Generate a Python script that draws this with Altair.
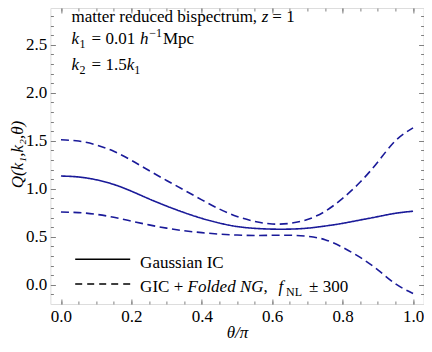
import altair as alt
import pandas as pd

# ---------------- data ----------------
theta = [0.00, 0.05, 0.10, 0.15, 0.20, 0.25, 0.30, 0.35, 0.40, 0.45, 0.50,
         0.55, 0.60, 0.65, 0.70, 0.75, 0.80, 0.85, 0.90, 0.95, 1.00]
q_gaussian = [1.133, 1.123, 1.094, 1.045, 0.975, 0.895, 0.820, 0.752, 0.692, 0.643, 0.607,
              0.588, 0.580, 0.580, 0.590, 0.612, 0.640, 0.675, 0.710, 0.745, 0.766]
q_folded_plus = [1.510, 1.497, 1.457, 1.390, 1.297, 1.190, 1.087, 0.986, 0.885, 0.789, 0.712,
                 0.661, 0.633, 0.640, 0.680, 0.765, 0.900, 1.070, 1.280, 1.500, 1.635]
q_folded_minus = [0.758, 0.752, 0.734, 0.703, 0.663, 0.624, 0.590, 0.563, 0.543, 0.528, 0.518,
                  0.514, 0.516, 0.516, 0.505, 0.470, 0.390, 0.285, 0.155, 0.010, -0.090]

series_names = ["Gaussian IC", "GIC + Folded NG, fNL +300", "GIC + Folded NG, fNL -300"]

x_major = [0.0, 0.2, 0.4, 0.6, 0.8, 1.0]
x_minor = [round(i * 0.05, 2) for i in range(21)]
y_major = [0.0, 0.5, 1.0, 1.5, 2.0, 2.5]
y_minor = [round(-0.1 + i * 0.1, 1) for i in range(30)]

x_domain = [-0.03, 1.03]
y_domain = [-0.2, 2.883]

rows = []
for name, vals in zip(series_names, [q_gaussian, q_folded_plus, q_folded_minus]):
    for t, v in zip(theta, vals):
        rows.append({"theta": t, "Q": v, "series": name})
df = pd.DataFrame(rows)

# ---------------- style ----------------
FONT = "'Liberation Serif', 'Times New Roman', serif"
BLUE = "#1a1a99"
FRAME = "#808080"
W, H = 373.2, 296
PAD_L = 42.4

xs = alt.Scale(domain=x_domain, nice=False, zero=False)
ys = alt.Scale(domain=y_domain, nice=False, zero=False)


def axis(orient, values, size, labels=False, **kw):
    return alt.Axis(orient=orient, values=values, tickSize=size, offset=-size,
                    labels=labels, grid=False, domain=False, tickColor=FRAME,
                    tickWidth=1, **kw)


x_main_axis = axis("bottom", x_major, 5, labels=True, format=".1f",
                   labelFont=FONT, labelFontSize=17, labelColor="black",
                   labelBaseline="alphabetic", labelPadding=17.5, labelFlush=False,
                   title="θ/π", titleFont=FONT, titleFontSize=17, titleFontStyle="italic",
                   titleFontWeight="normal", titleColor="black",
                   titleBaseline="alphabetic", titleY=38, titleX=W / 2)
y_main_axis = axis("left", y_major, 5, labels=True, format=".1f",
                   labelFont=FONT, labelFontSize=17, labelColor="black",
                   labelPadding=3.7, labelFlush=False,
                   title="Q(k₁,k₂,θ)", titleFont=FONT, titleFontSize=17,
                   titleFontStyle="italic", titleFontWeight="normal", titleColor="black",
                   titleAngle=270, titleAlign="center", titleBaseline="alphabetic",
                   titleX=-33.4, titleY=146)

lines = alt.Chart(df).mark_line(color=BLUE, strokeWidth=1.6, interpolate="natural").encode(
    x=alt.X("theta:Q", scale=xs, axis=x_main_axis),
    y=alt.Y("Q:Q", scale=ys, axis=y_main_axis),
    strokeDash=alt.StrokeDash("series:N",
                              scale=alt.Scale(domain=series_names,
                                              range=[[1, 0], [8, 4.5], [8, 4.5]]),
                              legend=None),
    detail="series:N",
)


def axis_layer(xa, ya):
    return alt.Chart(df).mark_point(opacity=0).encode(
        x=alt.X("theta:Q", scale=xs, axis=xa, title=None),
        y=alt.Y("Q:Q", scale=ys, axis=ya, title=None),
    )


ax_minor = axis_layer(axis("bottom", x_minor, 3), axis("left", y_minor, 3))
ax_top_right = axis_layer(axis("top", x_major, 5), axis("right", y_major, 5))
ax_top_right_minor = axis_layer(axis("top", x_minor, 3), axis("right", y_minor, 3))

one = pd.DataFrame({"a": [0]})


def seg(text, x, y, size=17, style="normal"):
    return alt.Chart(one).mark_text(
        text=text, align="left", baseline="alphabetic", font=FONT,
        fontSize=size, fontStyle=style, color="black",
    ).encode(x=alt.value(x), y=alt.value(y))


texts = [
    seg("matter reduced bispectrum,", 21.2, 13.5),
    seg("z", 211.4, 13.5, style="italic"),
    seg("= 1", 221.9, 13.5),
    seg("k", 21.2, 36, style="italic"),
    seg("1", 29.2, 40, size=12),
    seg("= 0.01", 41.2, 36),
    seg("h", 89.6, 36, style="italic"),
    seg("−1", 98.9, 29, size=12),
    seg("Mpc", 112.6, 36),
    seg("k", 21.2, 61.5, style="italic"),
    seg("2", 29.2, 65.5, size=12),
    seg("= 1.5", 41.2, 61.5),
    seg("k", 76.4, 61.5, style="italic"),
    seg("1", 83.9, 65.5, size=12),
    seg("Gaussian IC", 89.7, 259.5),
    seg("GIC +", 89.7, 284),
    seg("Folded NG", 137.1, 284, style="italic"),
    seg(",", 213.2, 284),
    seg("f", 228.2, 284, style="italic"),
    seg("NL", 235.7, 288, size=12),
    seg("± 300", 258.7, 284),
]

legend_solid = alt.Chart(one).mark_rule(color="black", strokeWidth=1.6).encode(
    x=alt.value(24.8), x2=alt.value(79.8), y=alt.value(251.3))
legend_dash = alt.Chart(one).mark_rule(color="black", strokeWidth=1.6,
                                       strokeDash=[7, 5]).encode(
    x=alt.value(24.8), x2=alt.value(79.8), y=alt.value(276))

chart = alt.layer(
    lines, ax_minor, ax_top_right, ax_top_right_minor,
    legend_solid, legend_dash, *texts,
).resolve_axis(x="independent", y="independent").properties(
    width=W, height=H,
    autosize=alt.AutoSizeParams(type="none"),
    padding={"left": PAD_L, "top": 0, "right": 0.4, "bottom": 40},
).configure_view(stroke=FRAME, strokeWidth=1).configure(background="white")

chart.save("out.html", embed_options={"renderer": "svg", "actions": False})
